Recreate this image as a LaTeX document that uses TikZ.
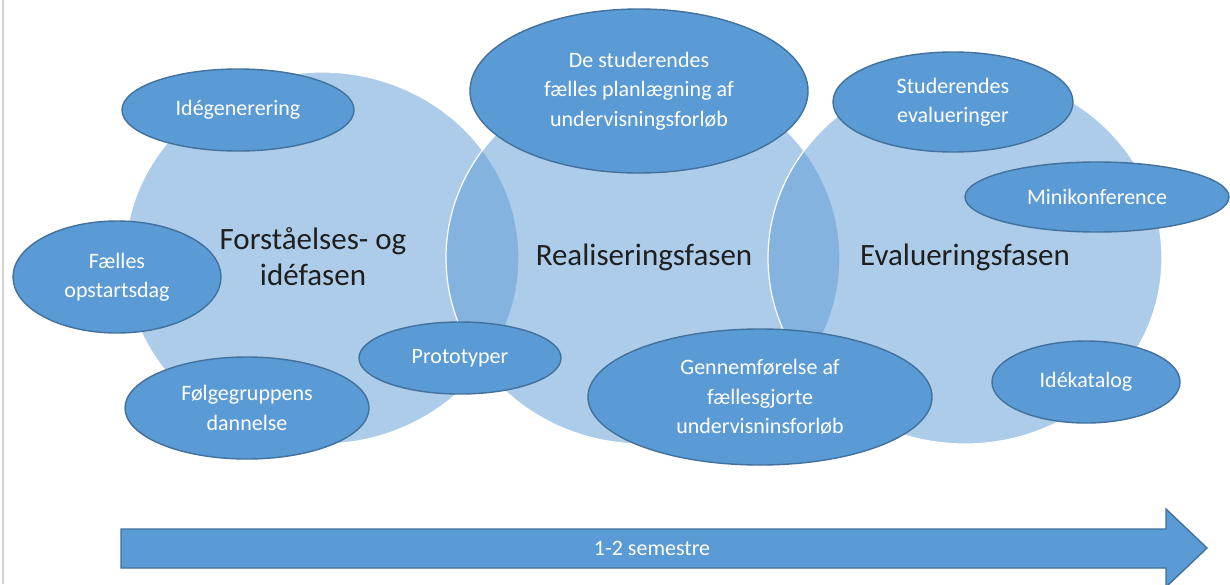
\documentclass[tikz,border=0pt]{standalone}
\usepackage{fontspec}
\setmainfont{Carlito}
\usepackage{tikz}
\usetikzlibrary{shapes.geometric}

\definecolor{phaseblue}{HTML}{5B9BD5}
\definecolor{rimblue}{HTML}{41719C}

\begin{document}
\begin{tikzpicture}[x=1pt, y=-1pt,
    phase/.style={ellipse, fill=phaseblue, fill opacity=0.5, draw=white, line width=1.2pt,
                  minimum width=394pt, minimum height=372pt, inner sep=0pt},
    phasename/.style={text=black!88, align=center, font=\fontsize{31}{36}\selectfont},
    task/.style={ellipse, fill=phaseblue, draw=rimblue, line width=1.4pt, text=white,
                 align=center, inner sep=0pt, font=\fontsize{22}{29.5}\selectfont}]
            % frame
            \clip (0,0) rectangle (1230,584);
            \fill[white] (0,0) rectangle (1230,584);
            \draw[gray!35, line width=2pt] (3,0) -- (3,584);

            % Phases
            \node[phase] (forst) at (322,258) {};
            \node[phase] (real)  at (643,258) {};
            \node[phase] (eval)  at (965,258) {};

            \node[phasename] (forstname) at (313,257) {Forståelses- og\\idéfasen};
            \node[phasename] (realname)  at (644,257) {Realiseringsfasen};
            \node[phasename] (evalname)  at (965,257) {Evalueringsfasen};

            % Activities, first phase
            \node[task, minimum width=232pt, minimum height=82pt]  (ide)   at (238,110) {Idégenerering};
            \node[task, minimum width=208pt, minimum height=112pt] (faell) at (117,277) {Fælles\\opstartsdag};
            \node[task, minimum width=244pt, minimum height=102pt] (folg)  at (247,408) {Følgegruppens\\dannelse};
            \node[task, minimum width=202pt, minimum height=72pt]  (proto) at (460,358) {Prototyper};

            % Activities, second phase
            \node[task, minimum width=338pt, minimum height=164pt] (plan)  at (639,91)  {De studerendes\\fælles planlægning af\\undervisningsforløb};
            \node[task, minimum width=344pt, minimum height=136pt] (gennem) at (760,397) {Gennemførelse af\\fællesgjorte\\undervisninsforløb};

            % Activities, third phase
            \node[task, minimum width=240pt, minimum height=100pt] (studev) at (953,102) {Studerendes\\evalueringer};
            \node[task, minimum width=264pt, minimum height=70pt]  (mini)   at (1097,197) {Minikonference};
            \node[task, minimum width=188pt, minimum height=82pt]  (katalog) at (1086,382) {Idékatalog};

            % Time line
            \draw[fill=phaseblue, draw=rimblue, line width=1.4pt]
                (121,529) -- (1166,529) -- (1166,509) -- (1207,548)
                -- (1166,587) -- (1166,568) -- (121,568) -- cycle;
            \node[text=white, font=\fontsize{22}{26}\selectfont] (sem) at (652,548) {1-2 semestre};
\end{tikzpicture}
\end{document}
